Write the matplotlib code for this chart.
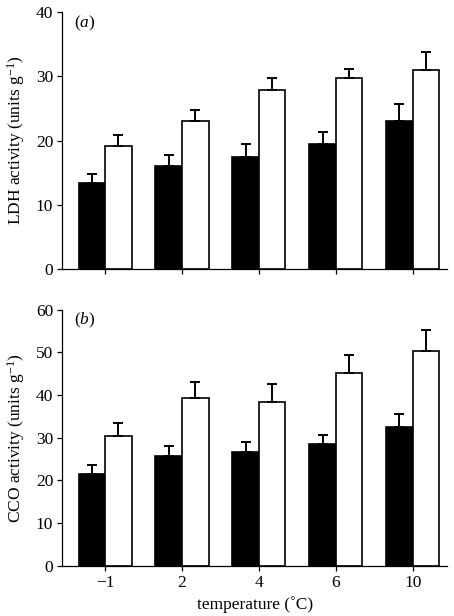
import matplotlib
matplotlib.use("Agg")
import matplotlib.pyplot as plt
import numpy as np

plt.rcParams['font.family'] = ['Liberation Serif', 'DejaVu Serif']
plt.rcParams['mathtext.fontset'] = 'custom'
plt.rcParams['mathtext.rm'] = 'Liberation Serif'
plt.rcParams['mathtext.it'] = 'Liberation Serif:italic'
plt.rcParams['font.size'] = 12.5

# --- данные ---
temps = ['\u22121', '2', '4', '6', '10']

ldh_black = [13.4, 16.1, 17.5, 19.4, 23.0]
ldh_black_err = [1.4, 1.7, 2.0, 2.0, 2.7]
ldh_white = [19.1, 23.1, 27.9, 29.7, 30.9]
ldh_white_err = [1.7, 1.7, 1.8, 1.4, 2.8]

cco_black = [21.6, 25.8, 26.6, 28.5, 32.6]
cco_black_err = [1.9, 2.2, 2.5, 2.2, 3.0]
cco_white = [30.5, 39.4, 38.5, 45.2, 50.3]
cco_white_err = [3.0, 3.6, 4.1, 4.1, 4.9]

fig = plt.figure(figsize=(4.54, 6.16), dpi=100)
ax1 = fig.add_axes([0.137, 0.5633, 0.848, 0.4172])
ax2 = fig.add_axes([0.137, 0.0817, 0.848, 0.4153])

x = np.arange(len(temps))
w = 0.345


def draw(ax, blk, blk_err, wht, wht_err, ymax, step, label, ylabel):
    ax.bar(x - w / 2, blk, w, color='black', edgecolor='black', linewidth=1.2)
    ax.bar(x + w / 2, wht, w, color='white', edgecolor='black', linewidth=1.2)
    ax.errorbar(x - w / 2, blk, yerr=[np.zeros(len(blk)), blk_err], fmt='none',
                ecolor='black', elinewidth=1.4, capsize=3.4, capthick=1.4)
    ax.errorbar(x + w / 2, wht, yerr=[np.zeros(len(wht)), wht_err], fmt='none',
                ecolor='black', elinewidth=1.4, capsize=3.4, capthick=1.4)
    ax.set_xlim(-0.557, 4.448)
    ax.set_ylim(0, ymax)
    ax.set_yticks(np.arange(0, ymax + 1, step))
    ax.set_xticks(x)
    for s in ['top', 'right']:
        ax.spines[s].set_visible(False)
    for s in ['left', 'bottom']:
        ax.spines[s].set_linewidth(0.9)
    ax.tick_params(direction='out', length=3.5, width=0.9, labelsize=12.5, pad=3)
    ax.text(0.03, 0.995, label, transform=ax.transAxes, ha='left', va='top', fontsize=12.5)
    ax.set_ylabel(ylabel, fontsize=12.5, labelpad=6)


draw(ax1, ldh_black, ldh_black_err, ldh_white, ldh_white_err, 40, 10,
     r'($\it{a}$)', r'LDH activity (units g$^{-1}$)')
draw(ax2, cco_black, cco_black_err, cco_white, cco_white_err, 60, 10,
     r'($\it{b}$)', r'CCO activity (units g$^{-1}$)')

ax1.set_xticklabels([])
ax2.set_xticklabels(temps)
ax2.set_xlabel('temperature (\u02daC)', fontsize=12.5, labelpad=4)

fig.savefig('out.png', dpi=100)
